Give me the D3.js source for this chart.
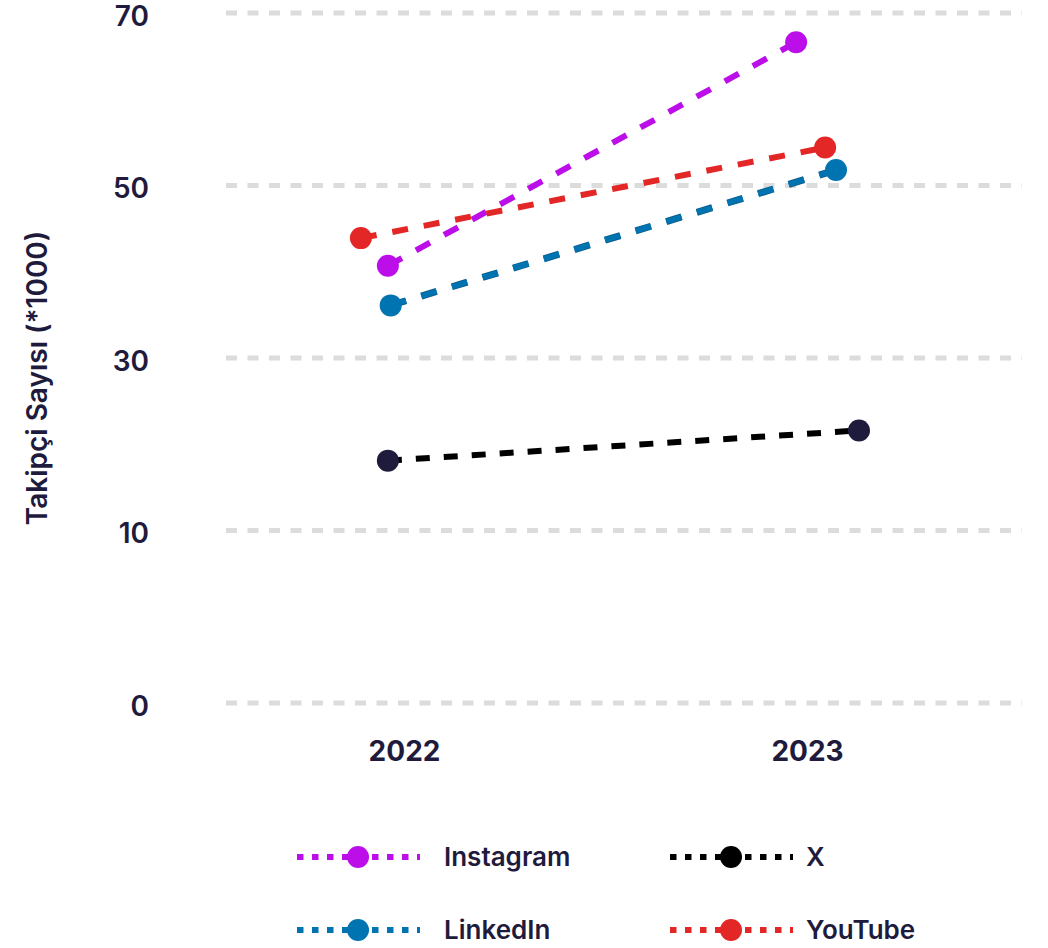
<!DOCTYPE html>
<html>
<head>
<meta charset="utf-8">
<script src="https://cdn.jsdelivr.net/npm/d3@7"></script>
<style>
  body { margin: 0; background: #fff; }
  text { font-family: Inter, "Noto Sans", sans-serif; fill: #1f1b3d; }
</style>
</head>
<body>
<div class="canvas"></div>
<script>
// data
const years = [2022, 2023];
const seriesNames = ["Instagram", "LinkedIn", "X", "YouTube"];
// follower counts (*1000) per year
const instagram = [40.7, 66.6];
const linkedin = [36.1, 51.8];
const xTwitter = [18.1, 21.6];
const youtube = [43.9, 54.4];
// jittered year positions of the points
const instagramYear = [2021.96, 2022.973];
const linkedinYear = [2021.967, 2023.072];
const xTwitterYear = [2021.96, 2023.129];
const youtubeYear = [2021.893, 2023.045];
const yTicks = [0, 10, 30, 50, 70];
const yTickLabels = ["0", "10", "30", "50", "70"];

const seriesValues = [instagram, linkedin, xTwitter, youtube];
const seriesYears = [instagramYear, linkedinYear, xTwitterYear, youtubeYear];

const styles = {
  Instagram: { line: "#bb0ee9", dot: "#bb0ee9", legendDot: "#bb0ee9", dash: "16,16" },
  LinkedIn: { line: "#0073b1", dot: "#0073b1", legendDot: "#0073b1", dash: "16,16" },
  X: { line: "#000000", dot: "#1f1b3d", legendDot: "#000000", dash: "14,14" },
  YouTube: { line: "#e32626", dot: "#e32626", legendDot: "#e32626", dash: "16,16" },
};

const dims = { width: 1048, height: 948 };
const plot = { left: 226, right: 1022, top: 13, bottom: 703 };

const svg = d3
  .select(".canvas")
  .append("svg")
  .attr("width", dims.width)
  .attr("height", dims.height);

// tick labels are evenly spaced, so the scale is piecewise
const step = (plot.bottom - plot.top) / (yTicks.length - 1);
const y = d3
  .scaleLinear()
  .domain(yTicks)
  .range(yTicks.map((d, i) => plot.bottom - i * step));

const x = d3.scaleLinear().domain(years).range([404, 807]);

// y axis labels
const yAxis = d3
  .axisLeft(y)
  .tickValues(yTicks)
  .tickFormat((d, i) => yTickLabels[i])
  .tickSize(0)
  .tickPadding(0);

const yAxisG = svg
  .append("g")
  .attr("transform", "translate(149,2)")
  .call(yAxis);
yAxisG.select(".domain").remove();
yAxisG
  .selectAll("text")
  .attr("x", 0)
  .attr("dy", "0.36em")
  .style("font-size", "28px")
  .style("font-weight", 600)
  .style("font-family", "Inter, sans-serif")
  .attr("fill", "#1f1b3d");

// grid
svg
  .append("g")
  .selectAll("line")
  .data(yTicks)
  .enter()
  .append("line")
  .attr("x1", plot.left)
  .attr("x2", plot.right)
  .attr("y1", (d) => y(d))
  .attr("y2", (d) => y(d))
  .attr("stroke", "#dcdcdc")
  .attr("stroke-width", 5)
  .attr("stroke-dasharray", "11,10.5");

// x axis labels
const xAxis = d3.axisBottom(x).tickValues(years).tickFormat(d3.format("d")).tickSize(0);
const xAxisG = svg.append("g").attr("transform", "translate(0,741)").call(xAxis);
xAxisG.select(".domain").remove();
xAxisG
  .selectAll("text")
  .attr("y", 0)
  .attr("dy", "0.73em")
  .style("font-size", "28px")
  .style("font-weight", 700)
  .style("font-family", "Inter, sans-serif")
  .attr("fill", "#1f1b3d");

// y title
svg
  .append("text")
  .attr("transform", "translate(37,378) rotate(-90)")
  .attr("text-anchor", "middle")
  .attr("dy", "0.36em")
  .style("font-size", "28px")
  .style("font-weight", 600)
  .text("Takipçi Sayısı (*1000)");

// lines
const lineGen = d3
  .line()
  .x((d) => x(d.year))
  .y((d) => y(d.value));

const seriesData = seriesNames.map((name, i) => ({
  name,
  points: seriesValues[i].map((v, j) => ({ value: v, year: seriesYears[i][j] })),
}));

const graph = svg.append("g");

seriesData.forEach((s) => {
  const st = styles[s.name];
  if (s.name === "LinkedIn") {
    graph
      .append("path")
      .attr("d", lineGen(s.points))
      .attr("fill", "none")
      .attr("stroke", "#0b5a87")
      .attr("stroke-width", 7)
      .attr("stroke-dasharray", st.dash);
  }
  graph
    .append("path")
    .attr("d", lineGen(s.points))
    .attr("fill", "none")
    .attr("stroke", st.line)
    .attr("stroke-width", s.name === "LinkedIn" ? 5.5 : 6)
    .attr("stroke-dasharray", st.dash);
});

seriesData.forEach((s) => {
  graph
    .append("g")
    .selectAll("circle")
    .data(s.points)
    .enter()
    .append("circle")
    .attr("cx", (d) => x(d.year))
    .attr("cy", (d) => y(d.value))
    .attr("r", 11)
    .attr("fill", styles[s.name].dot);
});

// legend
const legendLineX = [297, 670];
const legendTextX = [444, 806];
const legend = svg.append("g");
const legendItems = legend
  .selectAll("g")
  .data(seriesNames)
  .enter()
  .append("g")
  .attr("transform", (d, i) => `translate(0, ${857 + (i % 2) * 73})`);

legendItems
  .append("line")
  .attr("x1", (d, i) => legendLineX[Math.floor(i / 2)])
  .attr("x2", (d, i) => legendLineX[Math.floor(i / 2)] + 123)
  .attr("stroke", (d) => styles[d].line)
  .attr("stroke-width", 6)
  .attr("stroke-dasharray", "6.5,8.5");

legendItems
  .append("circle")
  .attr("cx", (d, i) => legendLineX[Math.floor(i / 2)] + 61)
  .attr("r", 11)
  .attr("fill", (d) => styles[d].legendDot);

legendItems
  .append("text")
  .attr("x", (d, i) => legendTextX[Math.floor(i / 2)])
  .attr("dy", "0.36em")
  .style("font-size", "26px")
  .style("font-weight", 600)
  .text((d) => d);
</script>
</body>
</html>
